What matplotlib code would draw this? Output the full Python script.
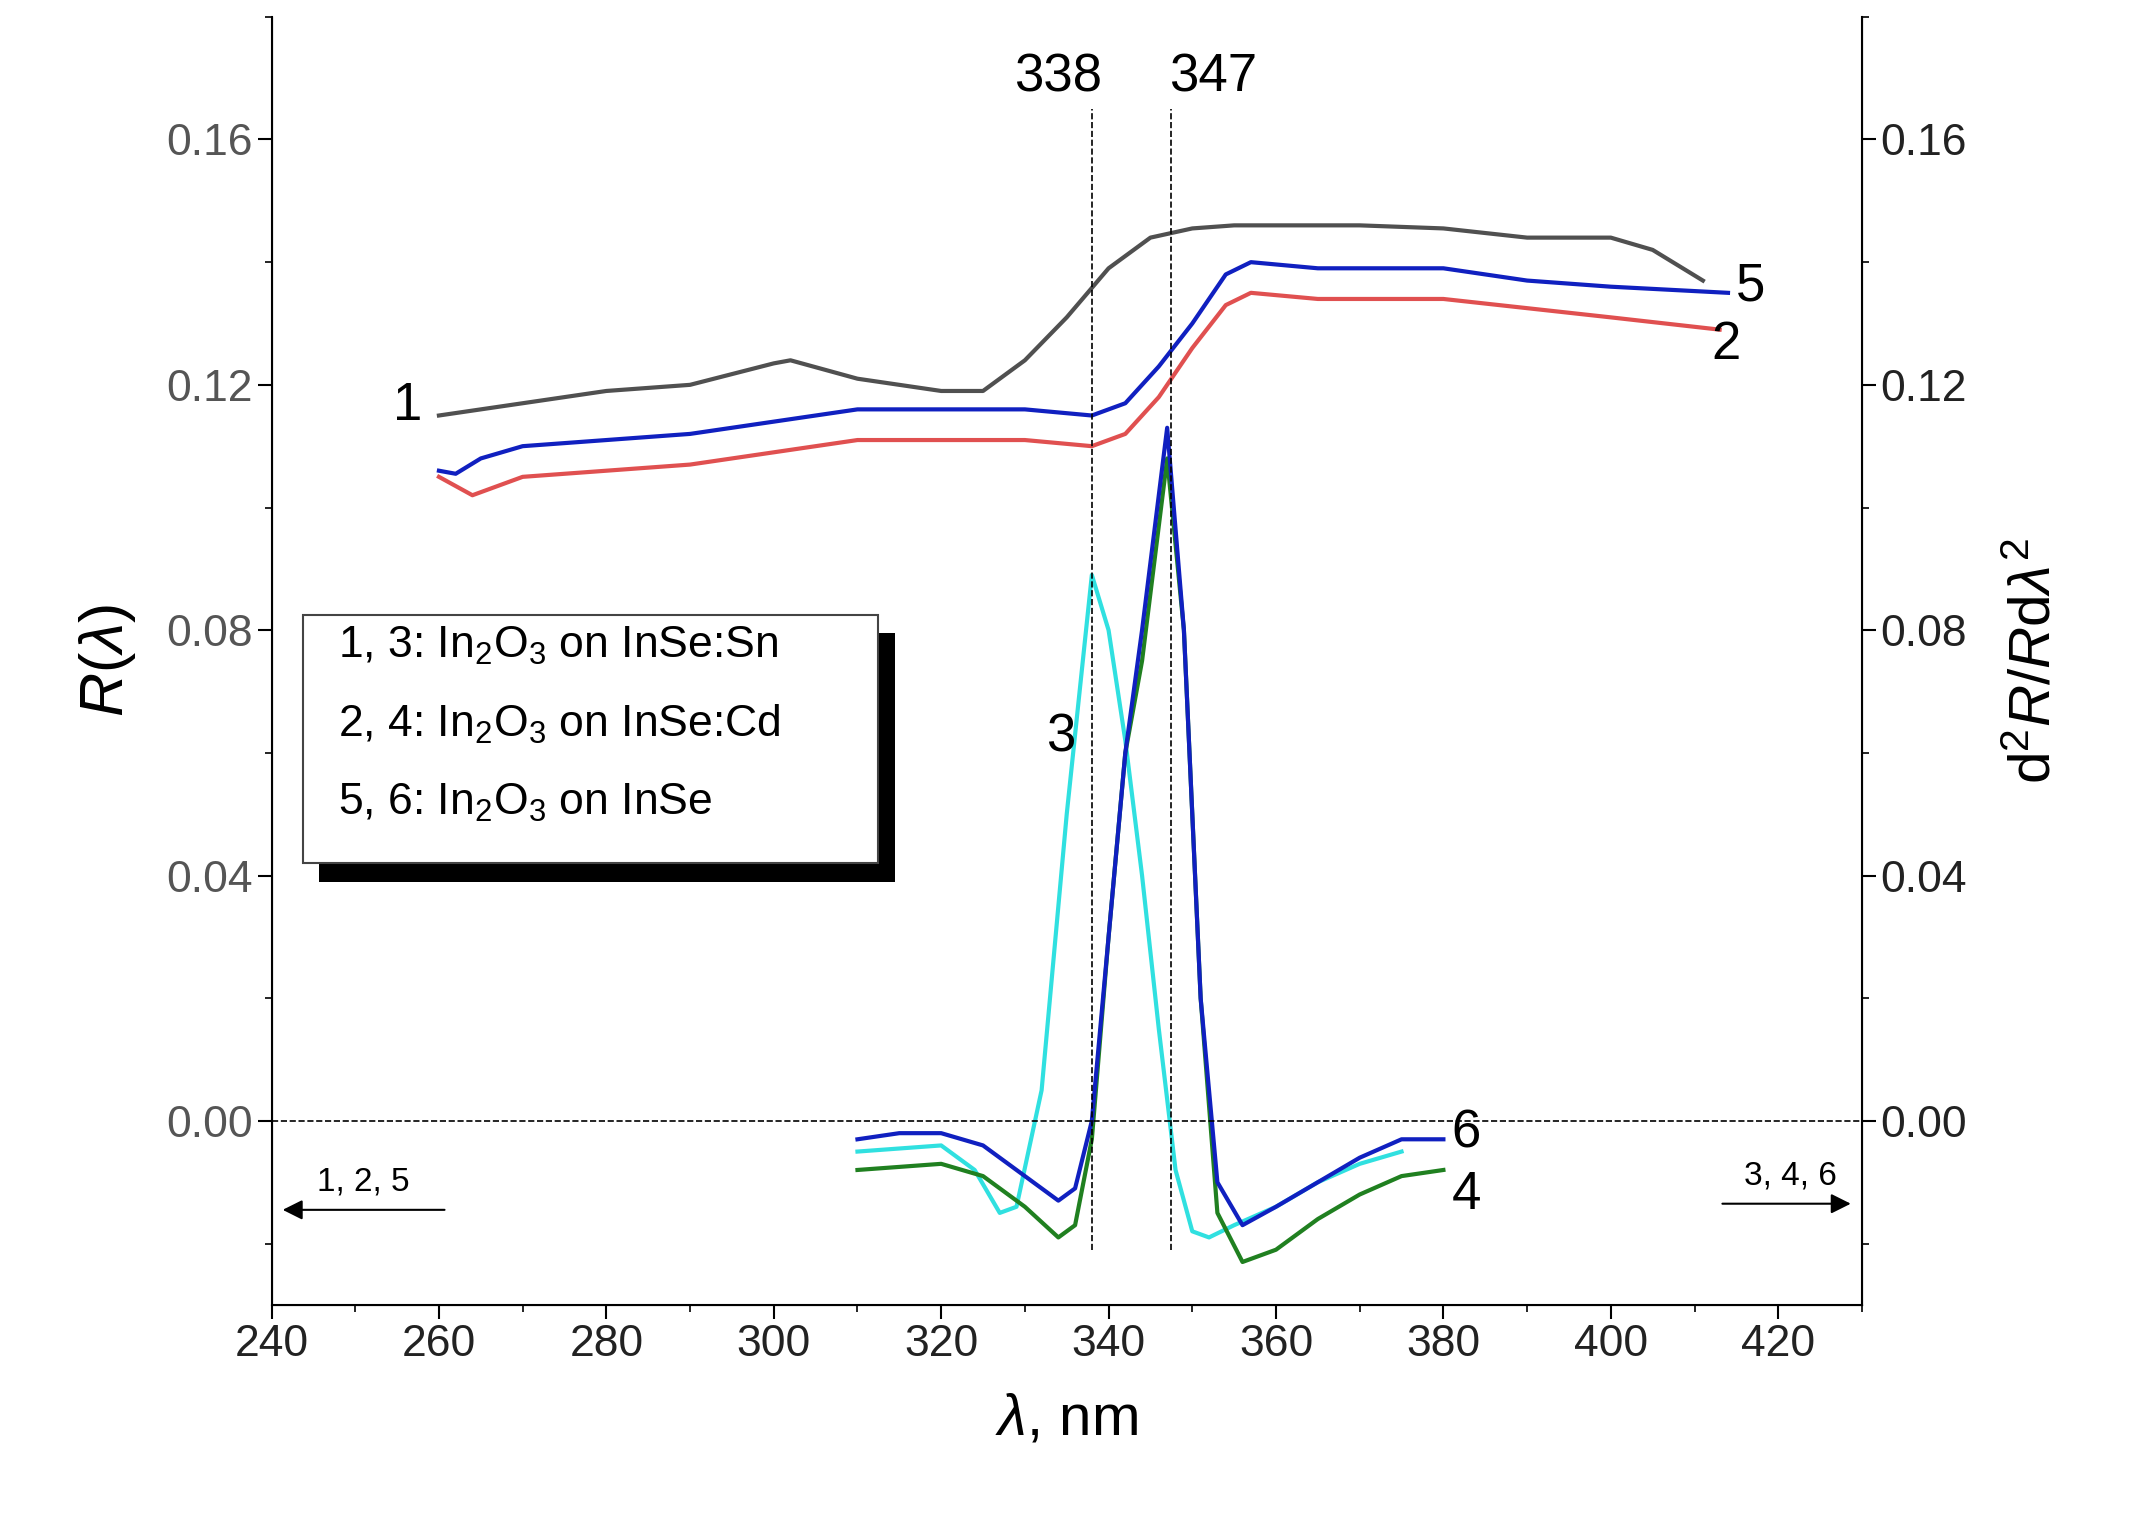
import matplotlib
matplotlib.use("Agg")
import matplotlib.pyplot as plt
from matplotlib.ticker import MultipleLocator
import matplotlib.patches as mpatches
plt.rcParams['font.family'] = ['Liberation Sans', 'DejaVu Sans']
plt.rcParams['mathtext.fontset'] = 'custom'
plt.rcParams['mathtext.rm'] = 'Liberation Sans'
plt.rcParams['mathtext.it'] = 'Liberation Sans:italic'

x1 = [260,270,280,290,300,302,310,320,325,330,335,340,345,350,355,360,370,380,390,400,405,411]
y1 = [0.115,0.117,0.119,0.120,0.1235,0.124,0.121,0.119,0.119,0.124,0.131,0.139,0.144,0.1455,0.146,0.146,0.146,0.1455,0.144,0.144,0.142,0.137]
x5 = [260,262,265,270,280,290,300,310,320,330,338,342,346,350,354,357,365,380,390,400,414]
y5 = [0.106,0.1055,0.108,0.110,0.111,0.112,0.114,0.116,0.116,0.116,0.115,0.117,0.123,0.130,0.138,0.140,0.139,0.139,0.137,0.136,0.135]
x2 = [260,264,270,280,290,300,310,320,330,338,342,346,350,354,357,365,380,400,413]
y2 = [0.105,0.102,0.105,0.106,0.107,0.109,0.111,0.111,0.111,0.110,0.112,0.118,0.126,0.133,0.135,0.134,0.134,0.131,0.129]
x3 = [310,320,324,327,329,332,335,338,340,342,344,346,348,350,352,355,360,365,370,375]
y3 = [-0.005,-0.004,-0.008,-0.015,-0.014,0.005,0.050,0.089,0.080,0.062,0.040,0.015,-0.008,-0.018,-0.019,-0.017,-0.014,-0.010,-0.007,-0.005]
x6 = [310,315,320,325,330,334,336,338,340,342,344,347,349,351,353,356,360,365,370,375,380]
y6 = [-0.003,-0.002,-0.002,-0.004,-0.009,-0.013,-0.011,0.000,0.030,0.060,0.080,0.113,0.080,0.020,-0.010,-0.017,-0.014,-0.010,-0.006,-0.003,-0.003]
x4 = [310,320,325,330,334,336,338,340,342,344,347,349,351,353,356,360,365,370,375,380]
y4 = [-0.008,-0.007,-0.009,-0.014,-0.019,-0.017,-0.003,0.030,0.060,0.075,0.108,0.080,0.020,-0.015,-0.023,-0.021,-0.016,-0.012,-0.009,-0.008]
ticks = [0.00,0.04,0.08,0.12,0.16]

fig = plt.figure(figsize=(21.55,15.28), dpi=100)
ax = fig.add_axes([0.126,0.146,0.738,0.843])
ax.set_xlim(240,430); ax.set_ylim(-0.03,0.18)
lw=3
ax.plot(x1,y1,color='#505050',lw=lw)
ax.plot(x2,y2,color='#e05050',lw=lw)
ax.plot(x5,y5,color='#1020c0',lw=lw)
ax.plot(x3,y3,color='#30e0e0',lw=lw)
ax.plot(x4,y4,color='#208020',lw=lw)
ax.plot(x6,y6,color='#1020c0',lw=lw)
ax.axhline(0,color='k',ls='--',lw=1.2)
for v in (338,347.5):
    ax.plot([v,v],[-0.021,0.165],color='k',ls='--',lw=1.2)
ax.text(334,0.166,'338',ha='center',va='bottom',fontsize=38)
ax.text(352.5,0.166,'347',ha='center',va='bottom',fontsize=38)
fs=38
ax.text(258,0.1165,'1',ha='right',va='center',fontsize=fs)
ax.text(412,0.1265,'2',ha='left',va='center',fontsize=fs)
ax.text(415,0.136,'5',ha='left',va='center',fontsize=fs)
ax.text(336,0.0625,'3',ha='right',va='center',fontsize=fs)
ax.text(381,-0.002,'6',ha='left',va='center',fontsize=fs)
ax.text(381,-0.012,'4',ha='left',va='center',fontsize=fs)
ax.annotate('',xy=(241,-0.0145),xytext=(261,-0.0145),arrowprops=dict(arrowstyle='-|>',color='k',lw=1.5,mutation_scale=30))
ax.text(251,-0.0125,'1, 2, 5',ha='center',va='bottom',fontsize=24)
ax.annotate('',xy=(429,-0.0135),xytext=(413,-0.0135),arrowprops=dict(arrowstyle='-|>',color='k',lw=1.5,mutation_scale=30))
ax.text(421.5,-0.0115,'3, 4, 6',ha='center',va='bottom',fontsize=24)
ax.add_patch(mpatches.Rectangle((245.7,0.039),68.8,0.0405,transform=ax.transData,facecolor='black',zorder=4))
ax.add_patch(mpatches.Rectangle((243.7,0.042),68.8,0.0405,transform=ax.transData,facecolor='white',edgecolor='#444',lw=1.5,zorder=5))
for i,t in enumerate(['1, 3: In$_2$O$_3$ on InSe:Sn','2, 4: In$_2$O$_3$ on InSe:Cd','5, 6: In$_2$O$_3$ on InSe']):
    ax.text(248,0.0775-i*0.0128,t,fontsize=32,va='center',zorder=6)
ax.set_yticks(ticks); ax.set_yticklabels([f'{t:.2f}' for t in ticks])
ax.xaxis.set_major_locator(MultipleLocator(20)); ax.xaxis.set_minor_locator(MultipleLocator(10))
ax.yaxis.set_minor_locator(MultipleLocator(0.02))
ax.tick_params(which='major',length=10,width=1.5,labelsize=32,labelcolor='#555')
ax.tick_params(axis='x',labelcolor='#222')
ax.tick_params(which='minor',length=5,width=1.2)
ax.spines['top'].set_visible(False)
for s in ax.spines.values(): s.set_linewidth(1.5)
ax.set_xlabel(r'$\lambda$, nm',fontsize=42,labelpad=20)
ax.set_ylabel(r'$R$($\lambda$)',fontsize=44,labelpad=20)
ax2 = ax.twinx(); ax2.set_ylim(-0.03,0.18)
ax2.spines['top'].set_visible(False)
ax2.set_yticks(ticks); ax2.set_yticklabels([f'{t:.2f}' for t in ticks])
ax2.yaxis.set_minor_locator(MultipleLocator(0.02))
ax2.tick_params(which='major',length=10,width=1.5,labelsize=32,labelcolor='#222')
ax2.tick_params(which='minor',length=5,width=1.2)
ax2.set_ylabel(r'd$^2$$R$/$R$d$\lambda^2$',fontsize=42,labelpad=30)
fig.savefig('out.png',dpi=100)
